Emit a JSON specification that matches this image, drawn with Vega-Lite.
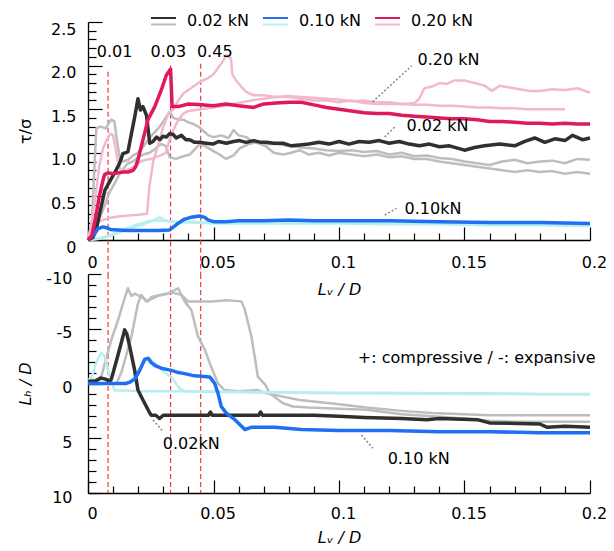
{
"$schema": "https://vega.github.io/schema/vega-lite/v6.json",
"autosize": {"type": "pad"},
"padding": {"left": 17, "top": 7, "right": 5, "bottom": 5},
"bounds": "flush",
"spacing": 34,
"config": {
 "font": "DejaVu Sans",
 "view": {"stroke": null},
 "axis": {"grid": false, "domainColor": "#000", "domainWidth": 1.3, "tickColor": "#000", "tickWidth": 1.2, "labelColor": "#000", "labelFontSize": 16, "titleColor": "#000", "titleFontSize": 16, "titleFontWeight": "normal", "labelFlush": false, "labelOverlap": false, "labelBound": false},
 "text": {"fontSize": 16, "fill": "#000"}
},
"resolve": {"scale": {"color": "independent", "stroke": "independent"}},
"datasets": {
 "top_main": [
  {"x":0,"y":0,"load":"0.02 kN"},{"x":0.002,"y":0.03,"load":"0.02 kN"},{"x":0.0033,"y":0.12,"load":"0.02 kN"},{"x":0.0047,"y":0.31,"load":"0.02 kN"},{"x":0.0067,"y":0.57,"load":"0.02 kN"},{"x":0.0086,"y":0.67,"load":"0.02 kN"},{"x":0.0106,"y":0.77,"load":"0.02 kN"},{"x":0.0126,"y":0.88,"load":"0.02 kN"},{"x":0.0139,"y":0.99,"load":"0.02 kN"},{"x":0.0159,"y":1.01,"load":"0.02 kN"},{"x":0.0173,"y":1.22,"load":"0.02 kN"},{"x":0.0186,"y":1.41,"load":"0.02 kN"},{"x":0.0199,"y":1.62,"load":"0.02 kN"},{"x":0.0209,"y":1.49,"load":"0.02 kN"},{"x":0.0219,"y":1.53,"load":"0.02 kN"},{"x":0.0233,"y":1.43,"load":"0.02 kN"},{"x":0.0246,"y":1.11,"load":"0.02 kN"},{"x":0.0259,"y":1.13,"load":"0.02 kN"},{"x":0.0273,"y":1.18,"load":"0.02 kN"},{"x":0.0286,"y":1.15,"load":"0.02 kN"},{"x":0.0299,"y":1.19,"load":"0.02 kN"},{"x":0.0312,"y":1.18,"load":"0.02 kN"},{"x":0.0325,"y":1.22,"load":"0.02 kN"},{"x":0.0339,"y":1.21,"load":"0.02 kN"},{"x":0.0352,"y":1.17,"load":"0.02 kN"},{"x":0.0372,"y":1.2,"load":"0.02 kN"},{"x":0.039,"y":1.15,"load":"0.02 kN"},{"x":0.0405,"y":1.15,"load":"0.02 kN"},{"x":0.0425,"y":1.12,"load":"0.02 kN"},{"x":0.0445,"y":1.12,"load":"0.02 kN"},{"x":0.047,"y":1.11,"load":"0.02 kN"},{"x":0.0498,"y":1.1,"load":"0.02 kN"},{"x":0.052,"y":1.13,"load":"0.02 kN"},{"x":0.0551,"y":1.11,"load":"0.02 kN"},{"x":0.058,"y":1.13,"load":"0.02 kN"},{"x":0.0604,"y":1.14,"load":"0.02 kN"},{"x":0.063,"y":1.12,"load":"0.02 kN"},{"x":0.066,"y":1.14,"load":"0.02 kN"},{"x":0.069,"y":1.12,"load":"0.02 kN"},{"x":0.0711,"y":1.12,"load":"0.02 kN"},{"x":0.074,"y":1.11,"load":"0.02 kN"},{"x":0.0777,"y":1.11,"load":"0.02 kN"},{"x":0.081,"y":1.08,"load":"0.02 kN"},{"x":0.0843,"y":1.09,"load":"0.02 kN"},{"x":0.088,"y":1.1,"load":"0.02 kN"},{"x":0.092,"y":1.12,"load":"0.02 kN"},{"x":0.096,"y":1.1,"load":"0.02 kN"},{"x":0.1,"y":1.13,"load":"0.02 kN"},{"x":0.104,"y":1.1,"load":"0.02 kN"},{"x":0.108,"y":1.13,"load":"0.02 kN"},{"x":0.112,"y":1.12,"load":"0.02 kN"},{"x":0.116,"y":1.14,"load":"0.02 kN"},{"x":0.12,"y":1.11,"load":"0.02 kN"},{"x":0.124,"y":1.13,"load":"0.02 kN"},{"x":0.128,"y":1.1,"load":"0.02 kN"},{"x":0.132,"y":1.08,"load":"0.02 kN"},{"x":0.136,"y":1.1,"load":"0.02 kN"},{"x":0.14,"y":1.07,"load":"0.02 kN"},{"x":0.144,"y":1.08,"load":"0.02 kN"},{"x":0.15,"y":1.03,"load":"0.02 kN"},{"x":0.154,"y":1.06,"load":"0.02 kN"},{"x":0.158,"y":1.08,"load":"0.02 kN"},{"x":0.164,"y":1.1,"load":"0.02 kN"},{"x":0.17,"y":1.08,"load":"0.02 kN"},{"x":0.174,"y":1.13,"load":"0.02 kN"},{"x":0.178,"y":1.17,"load":"0.02 kN"},{"x":0.182,"y":1.12,"load":"0.02 kN"},{"x":0.186,"y":1.16,"load":"0.02 kN"},{"x":0.19,"y":1.14,"load":"0.02 kN"},{"x":0.193,"y":1.2,"load":"0.02 kN"},{"x":0.197,"y":1.15,"load":"0.02 kN"},{"x":0.2,"y":1.17,"load":"0.02 kN"},
  {"x":0,"y":0,"load":"0.10 kN"},{"x":0.002,"y":0.05,"load":"0.10 kN"},{"x":0.004,"y":0.13,"load":"0.10 kN"},{"x":0.006,"y":0.15,"load":"0.10 kN"},{"x":0.0075,"y":0.14,"load":"0.10 kN"},{"x":0.009,"y":0.12,"load":"0.10 kN"},{"x":0.012,"y":0.115,"load":"0.10 kN"},{"x":0.016,"y":0.11,"load":"0.10 kN"},{"x":0.02,"y":0.11,"load":"0.10 kN"},{"x":0.024,"y":0.11,"load":"0.10 kN"},{"x":0.028,"y":0.11,"load":"0.10 kN"},{"x":0.0325,"y":0.115,"load":"0.10 kN"},{"x":0.0345,"y":0.16,"load":"0.10 kN"},{"x":0.0358,"y":0.19,"load":"0.10 kN"},{"x":0.0385,"y":0.24,"load":"0.10 kN"},{"x":0.041,"y":0.26,"load":"0.10 kN"},{"x":0.0445,"y":0.275,"load":"0.10 kN"},{"x":0.0465,"y":0.26,"load":"0.10 kN"},{"x":0.0478,"y":0.23,"load":"0.10 kN"},{"x":0.05,"y":0.21,"load":"0.10 kN"},{"x":0.055,"y":0.21,"load":"0.10 kN"},{"x":0.06,"y":0.22,"load":"0.10 kN"},{"x":0.07,"y":0.22,"load":"0.10 kN"},{"x":0.08,"y":0.23,"load":"0.10 kN"},{"x":0.09,"y":0.22,"load":"0.10 kN"},{"x":0.1,"y":0.22,"load":"0.10 kN"},{"x":0.12,"y":0.22,"load":"0.10 kN"},{"x":0.14,"y":0.21,"load":"0.10 kN"},{"x":0.16,"y":0.2,"load":"0.10 kN"},{"x":0.18,"y":0.2,"load":"0.10 kN"},{"x":0.2,"y":0.19,"load":"0.10 kN"},
  {"x":0,"y":0,"load":"0.20 kN"},{"x":0.0015,"y":0.05,"load":"0.20 kN"},{"x":0.003,"y":0.25,"load":"0.20 kN"},{"x":0.0045,"y":0.5,"load":"0.20 kN"},{"x":0.006,"y":0.69,"load":"0.20 kN"},{"x":0.0066,"y":0.75,"load":"0.20 kN"},{"x":0.008,"y":0.77,"load":"0.20 kN"},{"x":0.01,"y":0.76,"load":"0.20 kN"},{"x":0.012,"y":0.77,"load":"0.20 kN"},{"x":0.014,"y":0.78,"load":"0.20 kN"},{"x":0.016,"y":0.78,"load":"0.20 kN"},{"x":0.018,"y":0.8,"load":"0.20 kN"},{"x":0.019,"y":0.84,"load":"0.20 kN"},{"x":0.0199,"y":0.92,"load":"0.20 kN"},{"x":0.0219,"y":1.15,"load":"0.20 kN"},{"x":0.0239,"y":1.38,"load":"0.20 kN"},{"x":0.0266,"y":1.53,"load":"0.20 kN"},{"x":0.0292,"y":1.72,"load":"0.20 kN"},{"x":0.0312,"y":1.89,"load":"0.20 kN"},{"x":0.0329,"y":1.96,"load":"0.20 kN"},{"x":0.0335,"y":1.53,"load":"0.20 kN"},{"x":0.036,"y":1.53,"load":"0.20 kN"},{"x":0.04,"y":1.56,"load":"0.20 kN"},{"x":0.045,"y":1.55,"load":"0.20 kN"},{"x":0.05,"y":1.54,"load":"0.20 kN"},{"x":0.055,"y":1.56,"load":"0.20 kN"},{"x":0.06,"y":1.54,"load":"0.20 kN"},{"x":0.066,"y":1.52,"load":"0.20 kN"},{"x":0.07,"y":1.56,"load":"0.20 kN"},{"x":0.075,"y":1.57,"load":"0.20 kN"},{"x":0.08,"y":1.58,"load":"0.20 kN"},{"x":0.085,"y":1.58,"load":"0.20 kN"},{"x":0.09,"y":1.55,"load":"0.20 kN"},{"x":0.095,"y":1.52,"load":"0.20 kN"},{"x":0.1,"y":1.5,"load":"0.20 kN"},{"x":0.105,"y":1.48,"load":"0.20 kN"},{"x":0.11,"y":1.46,"load":"0.20 kN"},{"x":0.115,"y":1.45,"load":"0.20 kN"},{"x":0.12,"y":1.45,"load":"0.20 kN"},{"x":0.125,"y":1.43,"load":"0.20 kN"},{"x":0.13,"y":1.42,"load":"0.20 kN"},{"x":0.135,"y":1.41,"load":"0.20 kN"},{"x":0.14,"y":1.4,"load":"0.20 kN"},{"x":0.145,"y":1.39,"load":"0.20 kN"},{"x":0.15,"y":1.39,"load":"0.20 kN"},{"x":0.155,"y":1.38,"load":"0.20 kN"},{"x":0.16,"y":1.36,"load":"0.20 kN"},{"x":0.165,"y":1.36,"load":"0.20 kN"},{"x":0.17,"y":1.35,"load":"0.20 kN"},{"x":0.175,"y":1.34,"load":"0.20 kN"},{"x":0.18,"y":1.34,"load":"0.20 kN"},{"x":0.185,"y":1.33,"load":"0.20 kN"},{"x":0.19,"y":1.34,"load":"0.20 kN"},{"x":0.195,"y":1.33,"load":"0.20 kN"},{"x":0.2,"y":1.33,"load":"0.20 kN"}
 ],
 "top_sub": [
  {"x":0,"y":0,"sub_load":"0.02 kN","run":"a"},{"x":0.0015,"y":0.2,"sub_load":"0.02 kN","run":"a"},{"x":0.0025,"y":0.8,"sub_load":"0.02 kN","run":"a"},{"x":0.0033,"y":1.28,"sub_load":"0.02 kN","run":"a"},{"x":0.005,"y":1.3,"sub_load":"0.02 kN","run":"a"},{"x":0.007,"y":1.28,"sub_load":"0.02 kN","run":"a"},{"x":0.0093,"y":1.38,"sub_load":"0.02 kN","run":"a"},{"x":0.0105,"y":1.36,"sub_load":"0.02 kN","run":"a"},{"x":0.0115,"y":1.15,"sub_load":"0.02 kN","run":"a"},{"x":0.0126,"y":0.95,"sub_load":"0.02 kN","run":"a"},{"x":0.014,"y":0.9,"sub_load":"0.02 kN","run":"a"},{"x":0.016,"y":0.92,"sub_load":"0.02 kN","run":"a"},{"x":0.018,"y":0.97,"sub_load":"0.02 kN","run":"a"},{"x":0.02,"y":1.0,"sub_load":"0.02 kN","run":"a"},{"x":0.022,"y":1.07,"sub_load":"0.02 kN","run":"a"},{"x":0.024,"y":1.15,"sub_load":"0.02 kN","run":"a"},{"x":0.026,"y":1.22,"sub_load":"0.02 kN","run":"a"},{"x":0.028,"y":1.28,"sub_load":"0.02 kN","run":"a"},{"x":0.03,"y":1.36,"sub_load":"0.02 kN","run":"a"},{"x":0.0325,"y":1.47,"sub_load":"0.02 kN","run":"a"},{"x":0.034,"y":1.4,"sub_load":"0.02 kN","run":"a"},{"x":0.036,"y":1.38,"sub_load":"0.02 kN","run":"a"},{"x":0.038,"y":1.38,"sub_load":"0.02 kN","run":"a"},{"x":0.04,"y":1.35,"sub_load":"0.02 kN","run":"a"},{"x":0.042,"y":1.33,"sub_load":"0.02 kN","run":"a"},{"x":0.044,"y":1.3,"sub_load":"0.02 kN","run":"a"},{"x":0.046,"y":1.25,"sub_load":"0.02 kN","run":"a"},{"x":0.048,"y":1.2,"sub_load":"0.02 kN","run":"a"},{"x":0.05,"y":1.18,"sub_load":"0.02 kN","run":"a"},{"x":0.053,"y":1.2,"sub_load":"0.02 kN","run":"a"},{"x":0.056,"y":1.17,"sub_load":"0.02 kN","run":"a"},{"x":0.058,"y":1.26,"sub_load":"0.02 kN","run":"a"},{"x":0.06,"y":1.2,"sub_load":"0.02 kN","run":"a"},{"x":0.063,"y":1.18,"sub_load":"0.02 kN","run":"a"},{"x":0.066,"y":1.12,"sub_load":"0.02 kN","run":"a"},{"x":0.07,"y":1.1,"sub_load":"0.02 kN","run":"a"},{"x":0.075,"y":1.1,"sub_load":"0.02 kN","run":"a"},{"x":0.08,"y":1.08,"sub_load":"0.02 kN","run":"a"},{"x":0.085,"y":1.06,"sub_load":"0.02 kN","run":"a"},{"x":0.09,"y":1.05,"sub_load":"0.02 kN","run":"a"},{"x":0.095,"y":1.03,"sub_load":"0.02 kN","run":"a"},{"x":0.1,"y":1.02,"sub_load":"0.02 kN","run":"a"},{"x":0.105,"y":1.03,"sub_load":"0.02 kN","run":"a"},{"x":0.11,"y":1.01,"sub_load":"0.02 kN","run":"a"},{"x":0.115,"y":1.02,"sub_load":"0.02 kN","run":"a"},{"x":0.12,"y":0.98,"sub_load":"0.02 kN","run":"a"},{"x":0.125,"y":1.0,"sub_load":"0.02 kN","run":"a"},{"x":0.13,"y":0.96,"sub_load":"0.02 kN","run":"a"},{"x":0.135,"y":0.97,"sub_load":"0.02 kN","run":"a"},{"x":0.14,"y":0.94,"sub_load":"0.02 kN","run":"a"},{"x":0.145,"y":0.93,"sub_load":"0.02 kN","run":"a"},{"x":0.15,"y":0.9,"sub_load":"0.02 kN","run":"a"},{"x":0.155,"y":0.88,"sub_load":"0.02 kN","run":"a"},{"x":0.16,"y":0.86,"sub_load":"0.02 kN","run":"a"},{"x":0.165,"y":0.9,"sub_load":"0.02 kN","run":"a"},{"x":0.17,"y":0.92,"sub_load":"0.02 kN","run":"a"},{"x":0.175,"y":0.88,"sub_load":"0.02 kN","run":"a"},{"x":0.18,"y":0.9,"sub_load":"0.02 kN","run":"a"},{"x":0.185,"y":0.91,"sub_load":"0.02 kN","run":"a"},{"x":0.19,"y":0.88,"sub_load":"0.02 kN","run":"a"},{"x":0.195,"y":0.93,"sub_load":"0.02 kN","run":"a"},{"x":0.2,"y":0.92,"sub_load":"0.02 kN","run":"a"},
  {"x":0,"y":0,"sub_load":"0.02 kN","run":"b"},{"x":0.004,"y":0.2,"sub_load":"0.02 kN","run":"b"},{"x":0.006,"y":0.35,"sub_load":"0.02 kN","run":"b"},{"x":0.0086,"y":0.55,"sub_load":"0.02 kN","run":"b"},{"x":0.0106,"y":0.65,"sub_load":"0.02 kN","run":"b"},{"x":0.013,"y":0.78,"sub_load":"0.02 kN","run":"b"},{"x":0.0159,"y":0.88,"sub_load":"0.02 kN","run":"b"},{"x":0.018,"y":0.9,"sub_load":"0.02 kN","run":"b"},{"x":0.02,"y":0.95,"sub_load":"0.02 kN","run":"b"},{"x":0.022,"y":0.98,"sub_load":"0.02 kN","run":"b"},{"x":0.0246,"y":1.0,"sub_load":"0.02 kN","run":"b"},{"x":0.027,"y":1.05,"sub_load":"0.02 kN","run":"b"},{"x":0.029,"y":1.1,"sub_load":"0.02 kN","run":"b"},{"x":0.031,"y":1.08,"sub_load":"0.02 kN","run":"b"},{"x":0.0325,"y":0.95,"sub_load":"0.02 kN","run":"b"},{"x":0.035,"y":0.93,"sub_load":"0.02 kN","run":"b"},{"x":0.038,"y":0.96,"sub_load":"0.02 kN","run":"b"},{"x":0.0405,"y":0.98,"sub_load":"0.02 kN","run":"b"},{"x":0.0445,"y":1.1,"sub_load":"0.02 kN","run":"b"},{"x":0.047,"y":1.07,"sub_load":"0.02 kN","run":"b"},{"x":0.05,"y":1.02,"sub_load":"0.02 kN","run":"b"},{"x":0.053,"y":0.97,"sub_load":"0.02 kN","run":"b"},{"x":0.055,"y":0.93,"sub_load":"0.02 kN","run":"b"},{"x":0.058,"y":0.97,"sub_load":"0.02 kN","run":"b"},{"x":0.0604,"y":1.05,"sub_load":"0.02 kN","run":"b"},{"x":0.064,"y":1.1,"sub_load":"0.02 kN","run":"b"},{"x":0.067,"y":1.12,"sub_load":"0.02 kN","run":"b"},{"x":0.0711,"y":1.07,"sub_load":"0.02 kN","run":"b"},{"x":0.074,"y":1.0,"sub_load":"0.02 kN","run":"b"},{"x":0.0777,"y":0.98,"sub_load":"0.02 kN","run":"b"},{"x":0.081,"y":1.0,"sub_load":"0.02 kN","run":"b"},{"x":0.0843,"y":1.03,"sub_load":"0.02 kN","run":"b"},{"x":0.088,"y":0.98,"sub_load":"0.02 kN","run":"b"},{"x":0.092,"y":1.0,"sub_load":"0.02 kN","run":"b"},{"x":0.096,"y":0.97,"sub_load":"0.02 kN","run":"b"},{"x":0.1,"y":1.0,"sub_load":"0.02 kN","run":"b"},{"x":0.105,"y":0.98,"sub_load":"0.02 kN","run":"b"},{"x":0.11,"y":0.96,"sub_load":"0.02 kN","run":"b"},{"x":0.115,"y":0.98,"sub_load":"0.02 kN","run":"b"},{"x":0.12,"y":0.95,"sub_load":"0.02 kN","run":"b"},{"x":0.125,"y":0.96,"sub_load":"0.02 kN","run":"b"},{"x":0.13,"y":0.93,"sub_load":"0.02 kN","run":"b"},{"x":0.135,"y":0.93,"sub_load":"0.02 kN","run":"b"},{"x":0.14,"y":0.9,"sub_load":"0.02 kN","run":"b"},{"x":0.145,"y":0.88,"sub_load":"0.02 kN","run":"b"},{"x":0.15,"y":0.86,"sub_load":"0.02 kN","run":"b"},{"x":0.155,"y":0.84,"sub_load":"0.02 kN","run":"b"},{"x":0.16,"y":0.82,"sub_load":"0.02 kN","run":"b"},{"x":0.165,"y":0.8,"sub_load":"0.02 kN","run":"b"},{"x":0.17,"y":0.78,"sub_load":"0.02 kN","run":"b"},{"x":0.175,"y":0.8,"sub_load":"0.02 kN","run":"b"},{"x":0.18,"y":0.78,"sub_load":"0.02 kN","run":"b"},{"x":0.185,"y":0.79,"sub_load":"0.02 kN","run":"b"},{"x":0.19,"y":0.76,"sub_load":"0.02 kN","run":"b"},{"x":0.195,"y":0.78,"sub_load":"0.02 kN","run":"b"},{"x":0.2,"y":0.76,"sub_load":"0.02 kN","run":"b"},
  {"x":0,"y":0,"sub_load":"0.10 kN","run":"a"},{"x":0.004,"y":0.01,"sub_load":"0.10 kN","run":"a"},{"x":0.008,"y":0.04,"sub_load":"0.10 kN","run":"a"},{"x":0.012,"y":0.08,"sub_load":"0.10 kN","run":"a"},{"x":0.016,"y":0.12,"sub_load":"0.10 kN","run":"a"},{"x":0.02,"y":0.16,"sub_load":"0.10 kN","run":"a"},{"x":0.024,"y":0.2,"sub_load":"0.10 kN","run":"a"},{"x":0.027,"y":0.24,"sub_load":"0.10 kN","run":"a"},{"x":0.0286,"y":0.26,"sub_load":"0.10 kN","run":"a"},{"x":0.031,"y":0.22,"sub_load":"0.10 kN","run":"a"},{"x":0.035,"y":0.2,"sub_load":"0.10 kN","run":"a"},{"x":0.04,"y":0.2,"sub_load":"0.10 kN","run":"a"},{"x":0.05,"y":0.19,"sub_load":"0.10 kN","run":"a"},{"x":0.06,"y":0.19,"sub_load":"0.10 kN","run":"a"},{"x":0.08,"y":0.19,"sub_load":"0.10 kN","run":"a"},{"x":0.1,"y":0.19,"sub_load":"0.10 kN","run":"a"},{"x":0.12,"y":0.18,"sub_load":"0.10 kN","run":"a"},{"x":0.14,"y":0.18,"sub_load":"0.10 kN","run":"a"},{"x":0.16,"y":0.17,"sub_load":"0.10 kN","run":"a"},{"x":0.18,"y":0.17,"sub_load":"0.10 kN","run":"a"},{"x":0.2,"y":0.16,"sub_load":"0.10 kN","run":"a"},
  {"x":0,"y":0,"sub_load":"0.10 kN","run":"b"},{"x":0.005,"y":0.02,"sub_load":"0.10 kN","run":"b"},{"x":0.01,"y":0.07,"sub_load":"0.10 kN","run":"b"},{"x":0.015,"y":0.13,"sub_load":"0.10 kN","run":"b"},{"x":0.02,"y":0.18,"sub_load":"0.10 kN","run":"b"},{"x":0.025,"y":0.22,"sub_load":"0.10 kN","run":"b"},{"x":0.03,"y":0.22,"sub_load":"0.10 kN","run":"b"},{"x":0.035,"y":0.21,"sub_load":"0.10 kN","run":"b"},{"x":0.04,"y":0.21,"sub_load":"0.10 kN","run":"b"},{"x":0.05,"y":0.2,"sub_load":"0.10 kN","run":"b"},{"x":0.07,"y":0.2,"sub_load":"0.10 kN","run":"b"},{"x":0.1,"y":0.2,"sub_load":"0.10 kN","run":"b"},{"x":0.13,"y":0.19,"sub_load":"0.10 kN","run":"b"},{"x":0.16,"y":0.18,"sub_load":"0.10 kN","run":"b"},{"x":0.2,"y":0.17,"sub_load":"0.10 kN","run":"b"},
  {"x":0,"y":0,"sub_load":"0.20 kN","run":"a"},{"x":0.0015,"y":0.15,"sub_load":"0.20 kN","run":"a"},{"x":0.003,"y":0.22,"sub_load":"0.20 kN","run":"a"},{"x":0.005,"y":0.22,"sub_load":"0.20 kN","run":"a"},{"x":0.008,"y":0.25,"sub_load":"0.20 kN","run":"a"},{"x":0.012,"y":0.27,"sub_load":"0.20 kN","run":"a"},{"x":0.016,"y":0.28,"sub_load":"0.20 kN","run":"a"},{"x":0.02,"y":0.29,"sub_load":"0.20 kN","run":"a"},{"x":0.0235,"y":0.3,"sub_load":"0.20 kN","run":"a"},{"x":0.0245,"y":0.62,"sub_load":"0.20 kN","run":"a"},{"x":0.026,"y":0.9,"sub_load":"0.20 kN","run":"a"},{"x":0.028,"y":1.1,"sub_load":"0.20 kN","run":"a"},{"x":0.03,"y":1.3,"sub_load":"0.20 kN","run":"a"},{"x":0.032,"y":1.45,"sub_load":"0.20 kN","run":"a"},{"x":0.034,"y":1.5,"sub_load":"0.20 kN","run":"a"},{"x":0.036,"y":1.6,"sub_load":"0.20 kN","run":"a"},{"x":0.038,"y":1.68,"sub_load":"0.20 kN","run":"a"},{"x":0.04,"y":1.72,"sub_load":"0.20 kN","run":"a"},{"x":0.042,"y":1.76,"sub_load":"0.20 kN","run":"a"},{"x":0.045,"y":1.82,"sub_load":"0.20 kN","run":"a"},{"x":0.048,"y":1.86,"sub_load":"0.20 kN","run":"a"},{"x":0.05,"y":1.9,"sub_load":"0.20 kN","run":"a"},{"x":0.052,"y":1.98,"sub_load":"0.20 kN","run":"a"},{"x":0.054,"y":2.06,"sub_load":"0.20 kN","run":"a"},{"x":0.055,"y":2.12,"sub_load":"0.20 kN","run":"a"},{"x":0.056,"y":2.1,"sub_load":"0.20 kN","run":"a"},{"x":0.057,"y":2.08,"sub_load":"0.20 kN","run":"a"},{"x":0.0575,"y":1.9,"sub_load":"0.20 kN","run":"a"},{"x":0.059,"y":1.83,"sub_load":"0.20 kN","run":"a"},{"x":0.061,"y":1.76,"sub_load":"0.20 kN","run":"a"},{"x":0.063,"y":1.7,"sub_load":"0.20 kN","run":"a"},{"x":0.066,"y":1.66,"sub_load":"0.20 kN","run":"a"},{"x":0.07,"y":1.66,"sub_load":"0.20 kN","run":"a"},{"x":0.075,"y":1.64,"sub_load":"0.20 kN","run":"a"},{"x":0.08,"y":1.64,"sub_load":"0.20 kN","run":"a"},{"x":0.085,"y":1.62,"sub_load":"0.20 kN","run":"a"},{"x":0.09,"y":1.6,"sub_load":"0.20 kN","run":"a"},{"x":0.095,"y":1.6,"sub_load":"0.20 kN","run":"a"},{"x":0.1,"y":1.58,"sub_load":"0.20 kN","run":"a"},{"x":0.105,"y":1.6,"sub_load":"0.20 kN","run":"a"},{"x":0.11,"y":1.57,"sub_load":"0.20 kN","run":"a"},{"x":0.115,"y":1.56,"sub_load":"0.20 kN","run":"a"},{"x":0.12,"y":1.56,"sub_load":"0.20 kN","run":"a"},{"x":0.125,"y":1.56,"sub_load":"0.20 kN","run":"a"},{"x":0.13,"y":1.57,"sub_load":"0.20 kN","run":"a"},{"x":0.132,"y":1.62,"sub_load":"0.20 kN","run":"a"},{"x":0.134,"y":1.74,"sub_load":"0.20 kN","run":"a"},{"x":0.137,"y":1.76,"sub_load":"0.20 kN","run":"a"},{"x":0.14,"y":1.8,"sub_load":"0.20 kN","run":"a"},{"x":0.143,"y":1.79,"sub_load":"0.20 kN","run":"a"},{"x":0.146,"y":1.83,"sub_load":"0.20 kN","run":"a"},{"x":0.15,"y":1.83,"sub_load":"0.20 kN","run":"a"},{"x":0.154,"y":1.8,"sub_load":"0.20 kN","run":"a"},{"x":0.158,"y":1.77,"sub_load":"0.20 kN","run":"a"},{"x":0.161,"y":1.71,"sub_load":"0.20 kN","run":"a"},{"x":0.164,"y":1.77,"sub_load":"0.20 kN","run":"a"},{"x":0.168,"y":1.75,"sub_load":"0.20 kN","run":"a"},{"x":0.172,"y":1.73,"sub_load":"0.20 kN","run":"a"},{"x":0.176,"y":1.71,"sub_load":"0.20 kN","run":"a"},{"x":0.18,"y":1.71,"sub_load":"0.20 kN","run":"a"},{"x":0.185,"y":1.73,"sub_load":"0.20 kN","run":"a"},{"x":0.19,"y":1.72,"sub_load":"0.20 kN","run":"a"},{"x":0.195,"y":1.74,"sub_load":"0.20 kN","run":"a"},{"x":0.2,"y":1.69,"sub_load":"0.20 kN","run":"a"},
  {"x":0,"y":0,"sub_load":"0.20 kN","run":"b"},{"x":0.0015,"y":0.2,"sub_load":"0.20 kN","run":"b"},{"x":0.003,"y":0.5,"sub_load":"0.20 kN","run":"b"},{"x":0.0045,"y":0.85,"sub_load":"0.20 kN","run":"b"},{"x":0.006,"y":1.05,"sub_load":"0.20 kN","run":"b"},{"x":0.0075,"y":1.15,"sub_load":"0.20 kN","run":"b"},{"x":0.009,"y":1.22,"sub_load":"0.20 kN","run":"b"},{"x":0.01,"y":1.2,"sub_load":"0.20 kN","run":"b"},{"x":0.011,"y":1.05,"sub_load":"0.20 kN","run":"b"},{"x":0.012,"y":0.88,"sub_load":"0.20 kN","run":"b"},{"x":0.013,"y":0.8,"sub_load":"0.20 kN","run":"b"},{"x":0.015,"y":0.8,"sub_load":"0.20 kN","run":"b"},{"x":0.017,"y":0.82,"sub_load":"0.20 kN","run":"b"},{"x":0.019,"y":0.85,"sub_load":"0.20 kN","run":"b"},{"x":0.021,"y":0.9,"sub_load":"0.20 kN","run":"b"},{"x":0.023,"y":0.92,"sub_load":"0.20 kN","run":"b"},{"x":0.025,"y":0.93,"sub_load":"0.20 kN","run":"b"},{"x":0.027,"y":0.95,"sub_load":"0.20 kN","run":"b"},{"x":0.029,"y":0.97,"sub_load":"0.20 kN","run":"b"},{"x":0.031,"y":1.0,"sub_load":"0.20 kN","run":"b"},{"x":0.0325,"y":1.15,"sub_load":"0.20 kN","run":"b"},{"x":0.034,"y":1.26,"sub_load":"0.20 kN","run":"b"},{"x":0.036,"y":1.38,"sub_load":"0.20 kN","run":"b"},{"x":0.038,"y":1.45,"sub_load":"0.20 kN","run":"b"},{"x":0.04,"y":1.48,"sub_load":"0.20 kN","run":"b"},{"x":0.045,"y":1.5,"sub_load":"0.20 kN","run":"b"},{"x":0.05,"y":1.52,"sub_load":"0.20 kN","run":"b"},{"x":0.055,"y":1.54,"sub_load":"0.20 kN","run":"b"},{"x":0.06,"y":1.57,"sub_load":"0.20 kN","run":"b"},{"x":0.065,"y":1.6,"sub_load":"0.20 kN","run":"b"},{"x":0.07,"y":1.62,"sub_load":"0.20 kN","run":"b"},{"x":0.075,"y":1.64,"sub_load":"0.20 kN","run":"b"},{"x":0.08,"y":1.65,"sub_load":"0.20 kN","run":"b"},{"x":0.085,"y":1.64,"sub_load":"0.20 kN","run":"b"},{"x":0.09,"y":1.63,"sub_load":"0.20 kN","run":"b"},{"x":0.095,"y":1.62,"sub_load":"0.20 kN","run":"b"},{"x":0.1,"y":1.61,"sub_load":"0.20 kN","run":"b"},{"x":0.105,"y":1.59,"sub_load":"0.20 kN","run":"b"},{"x":0.11,"y":1.6,"sub_load":"0.20 kN","run":"b"},{"x":0.115,"y":1.58,"sub_load":"0.20 kN","run":"b"},{"x":0.12,"y":1.58,"sub_load":"0.20 kN","run":"b"},{"x":0.125,"y":1.56,"sub_load":"0.20 kN","run":"b"},{"x":0.13,"y":1.55,"sub_load":"0.20 kN","run":"b"},{"x":0.135,"y":1.55,"sub_load":"0.20 kN","run":"b"},{"x":0.14,"y":1.54,"sub_load":"0.20 kN","run":"b"},{"x":0.145,"y":1.54,"sub_load":"0.20 kN","run":"b"},{"x":0.15,"y":1.53,"sub_load":"0.20 kN","run":"b"},{"x":0.155,"y":1.52,"sub_load":"0.20 kN","run":"b"},{"x":0.16,"y":1.52,"sub_load":"0.20 kN","run":"b"},{"x":0.165,"y":1.51,"sub_load":"0.20 kN","run":"b"},{"x":0.17,"y":1.51,"sub_load":"0.20 kN","run":"b"},{"x":0.175,"y":1.5,"sub_load":"0.20 kN","run":"b"},{"x":0.18,"y":1.5,"sub_load":"0.20 kN","run":"b"},{"x":0.185,"y":1.5,"sub_load":"0.20 kN","run":"b"},{"x":0.19,"y":1.5,"sub_load":"0.20 kN","run":"b"}
 ],
 "bot_main": [
  {"x":0,"y":-0.2,"load":"0.02 kN"},{"x":0.003,"y":-0.2,"load":"0.02 kN"},{"x":0.005,"y":-0.5,"load":"0.02 kN"},{"x":0.007,"y":-0.4,"load":"0.02 kN"},{"x":0.0086,"y":-0.2,"load":"0.02 kN"},{"x":0.0093,"y":-0.4,"load":"0.02 kN"},{"x":0.011,"y":-1.8,"load":"0.02 kN"},{"x":0.013,"y":-3.5,"load":"0.02 kN"},{"x":0.0146,"y":-4.9,"load":"0.02 kN"},{"x":0.0155,"y":-4.5,"load":"0.02 kN"},{"x":0.0166,"y":-3.4,"load":"0.02 kN"},{"x":0.0186,"y":-1.2,"load":"0.02 kN"},{"x":0.0199,"y":0.6,"load":"0.02 kN"},{"x":0.0219,"y":1.5,"load":"0.02 kN"},{"x":0.0246,"y":2.7,"load":"0.02 kN"},{"x":0.0252,"y":2.9,"load":"0.02 kN"},{"x":0.027,"y":2.9,"load":"0.02 kN"},{"x":0.0285,"y":3.2,"load":"0.02 kN"},{"x":0.03,"y":2.9,"load":"0.02 kN"},{"x":0.04,"y":2.9,"load":"0.02 kN"},{"x":0.048,"y":2.9,"load":"0.02 kN"},{"x":0.0488,"y":2.6,"load":"0.02 kN"},{"x":0.0495,"y":2.9,"load":"0.02 kN"},{"x":0.06,"y":2.9,"load":"0.02 kN"},{"x":0.068,"y":2.9,"load":"0.02 kN"},{"x":0.0688,"y":2.6,"load":"0.02 kN"},{"x":0.0695,"y":2.9,"load":"0.02 kN"},{"x":0.08,"y":2.9,"load":"0.02 kN"},{"x":0.09,"y":2.9,"load":"0.02 kN"},{"x":0.1,"y":3.0,"load":"0.02 kN"},{"x":0.11,"y":3.1,"load":"0.02 kN"},{"x":0.125,"y":3.2,"load":"0.02 kN"},{"x":0.135,"y":3.3,"load":"0.02 kN"},{"x":0.14,"y":3.2,"load":"0.02 kN"},{"x":0.155,"y":3.3,"load":"0.02 kN"},{"x":0.16,"y":3.6,"load":"0.02 kN"},{"x":0.18,"y":3.7,"load":"0.02 kN"},{"x":0.183,"y":4.0,"load":"0.02 kN"},{"x":0.19,"y":3.9,"load":"0.02 kN"},{"x":0.2,"y":4.0,"load":"0.02 kN"},
  {"x":0,"y":0,"load":"0.10 kN"},{"x":0.01,"y":0,"load":"0.10 kN"},{"x":0.015,"y":0,"load":"0.10 kN"},{"x":0.0165,"y":-0.1,"load":"0.10 kN"},{"x":0.0186,"y":-0.4,"load":"0.10 kN"},{"x":0.0206,"y":-1.2,"load":"0.10 kN"},{"x":0.0226,"y":-2.2,"load":"0.10 kN"},{"x":0.024,"y":-2.3,"load":"0.10 kN"},{"x":0.0252,"y":-1.9,"load":"0.10 kN"},{"x":0.027,"y":-1.6,"load":"0.10 kN"},{"x":0.0292,"y":-1.4,"load":"0.10 kN"},{"x":0.0332,"y":-1.2,"load":"0.10 kN"},{"x":0.036,"y":-1.0,"load":"0.10 kN"},{"x":0.0385,"y":-0.9,"load":"0.10 kN"},{"x":0.0425,"y":-0.7,"load":"0.10 kN"},{"x":0.0485,"y":-0.6,"load":"0.10 kN"},{"x":0.0505,"y":0,"load":"0.10 kN"},{"x":0.0518,"y":0.9,"load":"0.10 kN"},{"x":0.0531,"y":2.1,"load":"0.10 kN"},{"x":0.0551,"y":2.7,"load":"0.10 kN"},{"x":0.0585,"y":3.3,"load":"0.10 kN"},{"x":0.0625,"y":4.2,"load":"0.10 kN"},{"x":0.065,"y":4.0,"load":"0.10 kN"},{"x":0.0744,"y":4.0,"load":"0.10 kN"},{"x":0.085,"y":4.2,"load":"0.10 kN"},{"x":0.1,"y":4.3,"load":"0.10 kN"},{"x":0.12,"y":4.3,"load":"0.10 kN"},{"x":0.14,"y":4.4,"load":"0.10 kN"},{"x":0.16,"y":4.4,"load":"0.10 kN"},{"x":0.18,"y":4.5,"load":"0.10 kN"},{"x":0.2,"y":4.5,"load":"0.10 kN"}
 ],
 "bot_sub": [
  {"x":0,"y":-0.3,"sub_load":"0.02 kN","run":"a"},{"x":0.005,"y":-0.4,"sub_load":"0.02 kN","run":"a"},{"x":0.0093,"y":-4.0,"sub_load":"0.02 kN","run":"a"},{"x":0.012,"y":-5.8,"sub_load":"0.02 kN","run":"a"},{"x":0.0146,"y":-7.8,"sub_load":"0.02 kN","run":"a"},{"x":0.0159,"y":-8.7,"sub_load":"0.02 kN","run":"a"},{"x":0.0173,"y":-8.0,"sub_load":"0.02 kN","run":"a"},{"x":0.0186,"y":-8.2,"sub_load":"0.02 kN","run":"a"},{"x":0.0212,"y":-7.9,"sub_load":"0.02 kN","run":"a"},{"x":0.0239,"y":-7.5,"sub_load":"0.02 kN","run":"a"},{"x":0.0252,"y":-7.9,"sub_load":"0.02 kN","run":"a"},{"x":0.0292,"y":-8.1,"sub_load":"0.02 kN","run":"a"},{"x":0.0332,"y":-8.3,"sub_load":"0.02 kN","run":"a"},{"x":0.0372,"y":-8.1,"sub_load":"0.02 kN","run":"a"},{"x":0.0398,"y":-7.5,"sub_load":"0.02 kN","run":"a"},{"x":0.045,"y":-7.5,"sub_load":"0.02 kN","run":"a"},{"x":0.05,"y":-7.5,"sub_load":"0.02 kN","run":"a"},{"x":0.055,"y":-7.6,"sub_load":"0.02 kN","run":"a"},{"x":0.0611,"y":-7.5,"sub_load":"0.02 kN","run":"a"},{"x":0.0624,"y":-6.8,"sub_load":"0.02 kN","run":"a"},{"x":0.0651,"y":-4.3,"sub_load":"0.02 kN","run":"a"},{"x":0.0677,"y":-0.6,"sub_load":"0.02 kN","run":"a"},{"x":0.0706,"y":0.1,"sub_load":"0.02 kN","run":"a"},{"x":0.0724,"y":0.9,"sub_load":"0.02 kN","run":"a"},{"x":0.0777,"y":1.8,"sub_load":"0.02 kN","run":"a"},{"x":0.0817,"y":2.1,"sub_load":"0.02 kN","run":"a"},{"x":0.088,"y":2.2,"sub_load":"0.02 kN","run":"a"},{"x":0.1,"y":2.3,"sub_load":"0.02 kN","run":"a"},{"x":0.111,"y":2.4,"sub_load":"0.02 kN","run":"a"},{"x":0.125,"y":2.8,"sub_load":"0.02 kN","run":"a"},{"x":0.137,"y":3.0,"sub_load":"0.02 kN","run":"a"},{"x":0.15,"y":3.2,"sub_load":"0.02 kN","run":"a"},{"x":0.16,"y":3.4,"sub_load":"0.02 kN","run":"a"},{"x":0.17,"y":3.5,"sub_load":"0.02 kN","run":"a"},{"x":0.2,"y":3.5,"sub_load":"0.02 kN","run":"a"},
  {"x":0,"y":0,"sub_load":"0.02 kN","run":"b"},{"x":0.0113,"y":0,"sub_load":"0.02 kN","run":"b"},{"x":0.0133,"y":-1.0,"sub_load":"0.02 kN","run":"b"},{"x":0.0173,"y":-4.3,"sub_load":"0.02 kN","run":"b"},{"x":0.0199,"y":-7.3,"sub_load":"0.02 kN","run":"b"},{"x":0.0212,"y":-8.1,"sub_load":"0.02 kN","run":"b"},{"x":0.0232,"y":-7.5,"sub_load":"0.02 kN","run":"b"},{"x":0.0279,"y":-8.0,"sub_load":"0.02 kN","run":"b"},{"x":0.0319,"y":-8.2,"sub_load":"0.02 kN","run":"b"},{"x":0.0359,"y":-8.7,"sub_load":"0.02 kN","run":"b"},{"x":0.0385,"y":-7.5,"sub_load":"0.02 kN","run":"b"},{"x":0.0412,"y":-6.7,"sub_load":"0.02 kN","run":"b"},{"x":0.0438,"y":-4.3,"sub_load":"0.02 kN","run":"b"},{"x":0.0465,"y":-3.1,"sub_load":"0.02 kN","run":"b"},{"x":0.0491,"y":-1.5,"sub_load":"0.02 kN","run":"b"},{"x":0.0518,"y":0.0,"sub_load":"0.02 kN","run":"b"},{"x":0.0544,"y":0.6,"sub_load":"0.02 kN","run":"b"},{"x":0.0597,"y":0.7,"sub_load":"0.02 kN","run":"b"},{"x":0.0677,"y":0.6,"sub_load":"0.02 kN","run":"b"},{"x":0.0711,"y":0.9,"sub_load":"0.02 kN","run":"b"},{"x":0.0777,"y":1.2,"sub_load":"0.02 kN","run":"b"},{"x":0.0843,"y":1.5,"sub_load":"0.02 kN","run":"b"},{"x":0.1,"y":1.9,"sub_load":"0.02 kN","run":"b"},{"x":0.111,"y":2.2,"sub_load":"0.02 kN","run":"b"},{"x":0.125,"y":2.5,"sub_load":"0.02 kN","run":"b"},{"x":0.137,"y":2.7,"sub_load":"0.02 kN","run":"b"},{"x":0.15,"y":2.8,"sub_load":"0.02 kN","run":"b"},{"x":0.16,"y":2.9,"sub_load":"0.02 kN","run":"b"},{"x":0.2,"y":2.9,"sub_load":"0.02 kN","run":"b"},
  {"x":0,"y":-0.3,"sub_load":"0.10 kN","run":"a"},{"x":0.0015,"y":-0.6,"sub_load":"0.10 kN","run":"a"},{"x":0.0027,"y":-1.5,"sub_load":"0.10 kN","run":"a"},{"x":0.004,"y":-2.3,"sub_load":"0.10 kN","run":"a"},{"x":0.0053,"y":-2.8,"sub_load":"0.10 kN","run":"a"},{"x":0.0066,"y":-2.5,"sub_load":"0.10 kN","run":"a"},{"x":0.0076,"y":-1.6,"sub_load":"0.10 kN","run":"a"},{"x":0.0086,"y":-0.6,"sub_load":"0.10 kN","run":"a"},{"x":0.0106,"y":0.65,"sub_load":"0.10 kN","run":"a"},{"x":0.015,"y":0.65,"sub_load":"0.10 kN","run":"a"},{"x":0.02,"y":0.7,"sub_load":"0.10 kN","run":"a"},{"x":0.03,"y":0.7,"sub_load":"0.10 kN","run":"a"},{"x":0.04,"y":0.7,"sub_load":"0.10 kN","run":"a"},{"x":0.06,"y":0.75,"sub_load":"0.10 kN","run":"a"},{"x":0.08,"y":0.8,"sub_load":"0.10 kN","run":"a"},{"x":0.1,"y":0.85,"sub_load":"0.10 kN","run":"a"},{"x":0.12,"y":0.85,"sub_load":"0.10 kN","run":"a"},{"x":0.14,"y":0.9,"sub_load":"0.10 kN","run":"a"},{"x":0.16,"y":0.9,"sub_load":"0.10 kN","run":"a"},{"x":0.18,"y":0.95,"sub_load":"0.10 kN","run":"a"},{"x":0.2,"y":0.95,"sub_load":"0.10 kN","run":"a"},
  {"x":0,"y":0,"sub_load":"0.10 kN","run":"b"},{"x":0.015,"y":0,"sub_load":"0.10 kN","run":"b"},{"x":0.018,"y":-0.5,"sub_load":"0.10 kN","run":"b"},{"x":0.0206,"y":-1.4,"sub_load":"0.10 kN","run":"b"},{"x":0.0226,"y":-2.3,"sub_load":"0.10 kN","run":"b"},{"x":0.025,"y":-2.2,"sub_load":"0.10 kN","run":"b"},{"x":0.0299,"y":-1.1,"sub_load":"0.10 kN","run":"b"},{"x":0.0332,"y":-0.6,"sub_load":"0.10 kN","run":"b"},{"x":0.0365,"y":0.45,"sub_load":"0.10 kN","run":"b"},{"x":0.0385,"y":0.7,"sub_load":"0.10 kN","run":"b"},{"x":0.045,"y":0.75,"sub_load":"0.10 kN","run":"b"},{"x":0.06,"y":0.8,"sub_load":"0.10 kN","run":"b"},{"x":0.1,"y":0.9,"sub_load":"0.10 kN","run":"b"},{"x":0.15,"y":0.95,"sub_load":"0.10 kN","run":"b"},{"x":0.2,"y":1.0,"sub_load":"0.10 kN","run":"b"}
 ],
 "top_vlines": [{"x":0.008,"y":1.93,"y2":-0.39},{"x":0.0329,"y":2.0,"y2":-0.39},{"x":0.0449,"y":2.02,"y2":-0.39}],
 "bot_vlines": [{"x":0.008,"y":-10,"y2":10},{"x":0.0329,"y":-10,"y2":10},{"x":0.0449,"y":-10,"y2":10}],
 "top_vlabels": [{"x":0.0106,"y":2.156,"text":"0.01"},{"x":0.032,"y":2.156,"text":"0.03"},{"x":0.0505,"y":2.156,"text":"0.45"}],
 "top_notes": [{"x":0.1313,"y":2.064,"text":"0.20 kN"},{"x":0.1269,"y":1.302,"text":"0.02 kN"},{"x":0.1261,"y":0.361,"text":"0.10kN"}],
 "top_leaders": [{"x":0.1134,"y":1.583,"x2":0.129,"y2":1.999},{"x":0.1182,"y":1.181,"x2":0.1222,"y2":1.296},{"x":0.1182,"y":0.287,"x2":0.1229,"y2":0.363}],
 "bot_notes": [{"x":0.0298,"y":5.57,"text":"0.02kN"},{"x":0.1194,"y":6.85,"text":"0.10 kN"},{"x":0.1075,"y":-2.33,"text":"+: compressive / -: expansive"}],
 "bot_leaders": [{"x":0.0259,"y":3.33,"x2":0.0299,"y2":4.4},{"x":0.1089,"y":4.7,"x2":0.1135,"y2":5.92}]
},
"vconcat": [
 {
  "width": 502, "height": 218,
  "encoding": {
   "x": {"field": "x", "type": "quantitative", "scale": {"domain": [0, 0.2]},
    "axis": {"title": "Lᵥ / D", "titleFontStyle": "italic", "titleX": 251, "titleY": 49, "titleBaseline": "middle",
     "values": [0,0.01,0.02,0.03,0.04,0.05,0.06,0.07,0.08,0.09,0.1,0.11,0.12,0.13,0.14,0.15,0.16,0.17,0.18,0.19,0.2],
     "labelExpr": "round(datum.value*100) % 5 === 0 ? '' + datum.value : ''",
     "tickSize": {"condition": {"test": "round(datum.value*100) % 5 === 0", "value": -13}, "value": -7},
     "labelPadding": 27, "labelOffset": 4}},
   "y": {"field": "y", "type": "quantitative", "scale": {"domain": [0, 2.5]},
    "axis": {"title": "τ/σ", "titleX": -63, "titleY": 109, "titleBaseline": "middle", "titleAlign": "center", "titleAngle": -90,
     "values": [0,0.1,0.2,0.3,0.4,0.5,0.6,0.7,0.8,0.9,1,1.1,1.2,1.3,1.4,1.5,1.6,1.7,1.8,1.9,2,2.1,2.2,2.3,2.4,2.5],
     "labelExpr": "round(datum.value*10) % 5 === 0 ? (datum.value === 0 ? '0' : format(datum.value, '.1f')) : ''",
     "tickSize": {"condition": {"test": "round(datum.value*10) % 5 === 0", "value": -14}, "value": -8},
     "labelPadding": 26, "labelOffset": 7}}
  },
  "layer": [
   {"data": {"name": "top_vlines"}, "mark": {"type": "rule", "color": "#ee2a2a", "strokeWidth": 1.1, "strokeDash": [5, 3]},
    "encoding": {"y2": {"field": "y2"}}},
   {"data": {"name": "top_sub"}, "mark": {"type": "line", "strokeWidth": 2.5, "strokeJoin": "round"},
    "encoding": {"stroke": {"field": "sub_load", "type": "nominal", "scale": {"range": ["#bdbdbd", "#b9eef0", "#f2b8d2"]},
      "legend": {"orient": "none", "legendX": 62, "legendY": -14.5, "direction": "horizontal", "title": null, "symbolType": "M-1,0.26H1", "symbolSize": 625, "symbolStrokeWidth": 2, "labelFontSize": 16, "labelOffset": 10, "columnPadding": 10, "padding": 0, "labelOpacity": 0}},
     "detail": {"field": "run"}}},
   {"data": {"name": "top_main"}, "mark": {"type": "line", "strokeWidth": 3.5, "strokeJoin": "round"},
    "encoding": {"color": {"field": "load", "type": "nominal", "scale": {"range": ["#303030", "#1f6ff5", "#e0195a"]},
      "legend": {"orient": "none", "legendX": 62, "legendY": -14.5, "direction": "horizontal", "title": null, "symbolType": "M-1,-0.26H1", "symbolSize": 625, "symbolStrokeWidth": 2, "labelFontSize": 16, "labelOffset": 10, "columnPadding": 10, "padding": 0, "labelColor": "#000"}}}},
   {"data": {"name": "top_leaders"}, "mark": {"type": "rule", "color": "#888888", "strokeWidth": 1.5, "strokeDash": [2, 2]},
    "encoding": {"x2": {"field": "x2"}, "y2": {"field": "y2"}}},
   {"data": {"name": "top_notes"}, "mark": {"type": "text", "align": "left", "baseline": "middle", "fontSize": 16},
    "encoding": {"text": {"field": "text"}}},
   {"data": {"name": "top_vlabels"}, "mark": {"type": "text", "align": "center", "baseline": "middle", "fontSize": 16},
    "encoding": {"text": {"field": "text"}}}
  ]
 },
 {
  "width": 502, "height": 219,
  "encoding": {
   "x": {"field": "x", "type": "quantitative", "scale": {"domain": [0, 0.2]},
    "axis": {"title": "Lᵥ / D", "titleFontStyle": "italic", "titleX": 251, "titleY": 44, "titleBaseline": "middle",
     "values": [0,0.01,0.02,0.03,0.04,0.05,0.06,0.07,0.08,0.09,0.1,0.11,0.12,0.13,0.14,0.15,0.16,0.17,0.18,0.19,0.2],
     "labelExpr": "round(datum.value*100) % 5 === 0 ? '' + datum.value : ''",
     "tickSize": {"condition": {"test": "round(datum.value*100) % 5 === 0", "value": -13}, "value": -7},
     "labelPadding": 25, "labelOffset": 4}},
   "y": {"field": "y", "type": "quantitative", "scale": {"domain": [-10, 10], "reverse": true},
    "axis": {"title": "Lₕ / D", "titleFontStyle": "italic", "titleX": -63, "titleY": 109.5, "titleBaseline": "middle", "titleAlign": "center", "titleAngle": -90,
     "values": [-10,-9,-8,-7,-6,-5,-4,-3,-2,-1,0,1,2,3,4,5,6,7,8,9,10],
     "labelExpr": "datum.value % 5 === 0 ? '' + datum.value : ''",
     "tickSize": {"condition": {"test": "datum.value % 5 === 0", "value": -13}, "value": -8},
     "labelPadding": 29, "labelOffset": 4}}
  },
  "layer": [
   {"data": {"name": "bot_vlines"}, "mark": {"type": "rule", "color": "#ee2a2a", "strokeWidth": 1.1, "strokeDash": [5, 3]},
    "encoding": {"y2": {"field": "y2"}}},
   {"data": {"name": "bot_sub"}, "mark": {"type": "line", "strokeWidth": 2.5, "strokeJoin": "round"},
    "encoding": {"stroke": {"field": "sub_load", "type": "nominal", "scale": {"range": ["#bdbdbd", "#b9eef0", "#f2b8d2"]}, "legend": null},
     "detail": {"field": "run"}}},
   {"data": {"name": "bot_main"}, "mark": {"type": "line", "strokeWidth": 3.5, "strokeJoin": "round"},
    "encoding": {"color": {"field": "load", "type": "nominal", "scale": {"range": ["#303030", "#1f6ff5", "#e0195a"]}, "legend": null}}},
   {"data": {"name": "bot_leaders"}, "mark": {"type": "rule", "color": "#888888", "strokeWidth": 1.5, "strokeDash": [2, 2]},
    "encoding": {"x2": {"field": "x2"}, "y2": {"field": "y2"}}},
   {"data": {"name": "bot_notes"}, "mark": {"type": "text", "align": "left", "baseline": "middle", "fontSize": 16},
    "encoding": {"text": {"field": "text"}}}
  ]
 }
]
}
